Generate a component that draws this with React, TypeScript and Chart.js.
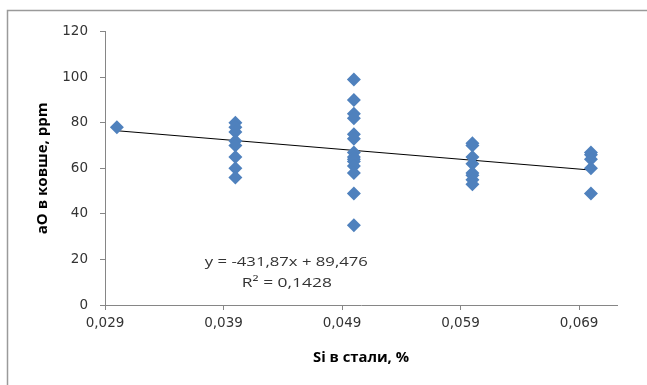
import React, { useEffect, useRef } from "react";
import { Chart, registerables } from "chart.js";

Chart.register(...registerables);

// Data
const siValues = [
  0.03,
  0.04, 0.04, 0.04, 0.04, 0.04, 0.04, 0.04, 0.04,
  0.05, 0.05, 0.05, 0.05, 0.05, 0.05, 0.05, 0.05, 0.05, 0.05, 0.05, 0.05, 0.05, 0.05,
  0.06, 0.06, 0.06, 0.06, 0.06, 0.06, 0.06, 0.06,
  0.07, 0.07, 0.07, 0.07, 0.07,
];
const aoValues = [
  78,
  80, 78, 76, 72, 70, 65, 60, 56,
  99, 90, 84, 82, 75, 73, 67, 65, 64, 63, 61, 58, 49, 35,
  71, 70, 65, 62, 58, 57, 55, 53,
  67, 66, 64, 60, 49,
];
const xTickValues = [0.029, 0.039, 0.049, 0.059, 0.069];
const trendSlope = -431.87;
const trendIntercept = 89.476;
const trendRange = [0.03, 0.07];
const equationLabel = "y = -431,87x + 89,476";
const r2Label = "R² = 0,1428";
const xTitle = "Si в стали, %";
const yTitle = "аО в ковше, ppm";

const FONT = "'Open Sans', 'Liberation Sans', sans-serif";
const TICK_FONT = "'DejaVu Sans', 'Open Sans', sans-serif";

function stretchedText(ctx: CanvasRenderingContext2D, text: string, cx: number, cy: number, width: number) {
  const w = ctx.measureText(text).width;
  const sx = width / w;
  ctx.save();
  ctx.translate(cx, cy);
  ctx.scale(sx, 1);
  ctx.fillText(text, 0, 0);
  ctx.restore();
}

export default function App() {
  const ref = useRef<HTMLCanvasElement | null>(null);

  useEffect(() => {
    document.body.style.margin = "0";
    const canvas = ref.current;
    if (!canvas) return;

    const points = siValues.map((x, i) => ({ x, y: aoValues[i] }));
    const trend = trendRange.map((x) => ({ x, y: trendSlope * x + trendIntercept }));

    const decor = {
      id: "decor",
      beforeDraw(chart: any) {
        const ctx = chart.ctx;
        ctx.save();
        ctx.fillStyle = "#ffffff";
        ctx.fillRect(0, 0, chart.width, chart.height);
        ctx.strokeStyle = "#9a9a9a";
        ctx.lineWidth = 1.5;
        ctx.strokeRect(7.5, 10.5, 700, 450);
        ctx.restore();
      },
      afterDraw(chart: any) {
        const ctx = chart.ctx;
        ctx.save();
        ctx.fillStyle = "#333333";
        ctx.textAlign = "center";
        ctx.textBaseline = "middle";
        ctx.font = `13.5px ${FONT}`;
        const xs = chart.scales.x;
        const ys = chart.scales.y;
        const ex = xs.getPixelForValue(0.0443);
        stretchedText(ctx, equationLabel, ex, ys.getPixelForValue(19.0), 163);
        stretchedText(ctx, r2Label, ex + 0.5, ys.getPixelForValue(9.6), 90);
        ctx.fillStyle = "#000000";
        ctx.font = `bold 13.5px ${FONT}`;
        stretchedText(ctx, xTitle, (xs.left + xs.right) / 2, 358, 96);
        ctx.translate(43, (ys.top + ys.bottom) / 2);
        ctx.rotate(-Math.PI / 2);
        stretchedText(ctx, yTitle, 0, 0, 132);
        ctx.restore();
      },
    };

    const chart = new Chart(canvas, {
      type: "scatter",
      data: {
        datasets: [
          {
            label: "aO",
            data: points,
            pointStyle: "rectRot",
            pointRadius: 7,
            pointHoverRadius: 7,
            backgroundColor: "#4F81BD",
            borderColor: "#4F81BD",
            borderWidth: 0,
          },
          {
            label: "trend",
            type: "line",
            data: trend,
            borderColor: "#000000",
            borderWidth: 1,
            pointRadius: 0,
            fill: false,
          } as any,
        ],
      },
      options: {
        responsive: false,
        animation: false,
        layout: { padding: { top: 31.7, right: 30, bottom: 0, left: 0 } },
        plugins: {
          legend: { display: false },
          tooltip: { enabled: false },
        },
        scales: {
          x: {
            type: "linear",
            min: 0.029,
            max: 0.0722,
            afterBuildTicks: (scale: any) => {
              scale.ticks = xTickValues.map((v) => ({ value: v }));
            },
            afterFit: (scale: any) => {
              scale.height = 80;
            },
            ticks: {
              autoSkip: false,
              maxRotation: 0,
              padding: 5,
              color: "#333333",
              font: { family: TICK_FONT, size: 13.5 },
              callback: (v: any) => Number(v).toFixed(3).replace(".", ","),
            },
            grid: { drawOnChartArea: false, drawTicks: true, tickLength: 5, color: "#868686" },
            border: { color: "#868686" },
          },
          y: {
            min: 0,
            max: 120,
            afterFit: (scale: any) => {
              scale.width = 105;
            },
            ticks: {
              stepSize: 20,
              padding: 12,
              color: "#333333",
              font: { family: TICK_FONT, size: 13.5 },
            },
            grid: { drawOnChartArea: false, drawTicks: true, tickLength: 5, color: "#868686" },
            border: { color: "#868686" },
          },
        },
      },
      plugins: [decor],
    });

    return () => chart.destroy();
  }, []);

  return (
    <div style={{ position: "absolute", left: 0, top: 0 }}>
      <canvas ref={ref} width={647} height={385} style={{ width: 647, height: 385 }} />
    </div>
  );
}
